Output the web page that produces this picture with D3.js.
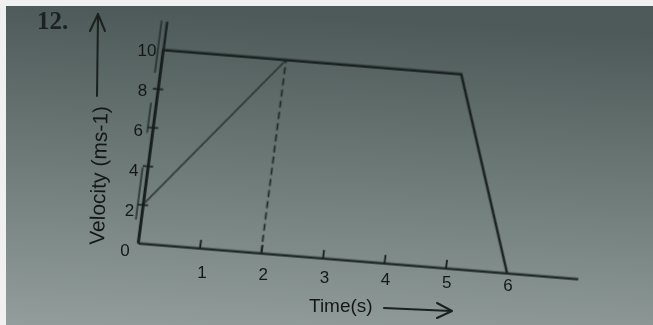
<!DOCTYPE html>
<html>
<head>
<meta charset="utf-8">
<script src="https://cdn.jsdelivr.net/npm/d3@7/dist/d3.min.js"></script>
<style>
  html, body { margin: 0; padding: 0; background: #f0f0f0; }
  svg { display: block; }
</style>
</head>
<body>
<svg id="chart" width="653" height="325"></svg>
<script>
// Velocity–time graph: constant speed, then braking to rest.
const motionTime     = [0, 0, 4.85, 6];
const motionVelocity = [0, 10, 10, 0];

// Straight line from the 2 m/s mark up to the top plateau.
const slopeTime      = [0, 2];
const slopeVelocity  = [2, 10];

// Dashed drop-line at t = 2 s.
const dropTime       = [2, 2];
const dropVelocity   = [0, 10];

const timeTicks      = [1, 2, 3, 4, 5, 6];
const velocityTicks  = [0, 2, 4, 6, 8, 10];
const timeTickMarks  = [1, 2, 3, 4, 5];
const velTickMarks   = [2, 4, 6, 8];

// Doubled strokes printed beside the vertical axis (velocity ranges).
const axisStrokeFrom = [8.8, 5.7, 1.2];
const axisStrokeTo   = [11.5, 7.25, 3.9];

const svg = d3.select("#chart");
const W = 653, H = 325;

// Paper background
const defs = svg.append("defs");
const grad = defs.append("linearGradient")
  .attr("id", "paper").attr("x1", "0.1").attr("y1", "0").attr("x2", "0").attr("y2", "1");
grad.append("stop").attr("offset", "0").attr("stop-color", "#4e5a59");
grad.append("stop").attr("offset", "0.45").attr("stop-color", "#6c7876");
grad.append("stop").attr("offset", "1").attr("stop-color", "#939e9c");
const soft = defs.append("filter").attr("id", "soft")
  .attr("x", "-5%").attr("y", "-5%").attr("width", "110%").attr("height", "110%");
soft.append("feGaussianBlur").attr("stdDeviation", 0.5);

svg.append("rect").attr("x", 6).attr("y", 6).attr("width", W - 6).attr("height", H - 6)
  .attr("fill", "url(#paper)");

// Scales in plot space (px per unit before the page's slant is applied)
const x = d3.scaleLinear().domain([0, 7.15]).range([0, 7.15 * 60]);
const y = d3.scaleLinear().domain([0, 11.5]).range([0, -11.5 * 19]);

// Slanted plane of the printed page
const M = { a: 61.5 / 60, b: 5.0 / 60, c: 2.5 / -19, d: -19.3 / -19, e: 138, f: 243 };

const ink = "#171d1c";
const plot = svg.append("g")
  .attr("transform", `matrix(${M.a},${M.b},${M.c},${M.d},${M.e},${M.f})`)
  .attr("filter", "url(#soft)");

// Time axis
const xAxis = plot.append("g")
  .call(d3.axisBottom(x).tickValues(timeTickMarks).tickSizeInner(-8).tickSizeOuter(0).tickFormat(""));
xAxis.select(".domain").attr("stroke", ink).attr("stroke-width", 2.2);
xAxis.selectAll(".tick line").attr("stroke", ink).attr("stroke-width", 1.8);

// Velocity axis
const yAxis = plot.append("g")
  .call(d3.axisLeft(y).tickValues(velTickMarks).tickSizeInner(5).tickSizeOuter(0).tickFormat(""));
yAxis.select(".domain").attr("stroke", ink).attr("stroke-width", 2.2);
yAxis.selectAll(".tick line").attr("x1", 5).attr("x2", -5).attr("stroke", ink).attr("stroke-width", 1.6);

// Doubled axis strokes
plot.append("g").selectAll("line")
  .data(axisStrokeFrom.map((v0, i) => [v0, axisStrokeTo[i]]))
  .join("line")
  .attr("x1", x(0) - 5).attr("x2", x(0) - 5)
  .attr("y1", d => y(d[0])).attr("y2", d => y(d[1]))
  .attr("stroke", "#232b2a").attr("stroke-width", 1.5);

const line = d3.line().x(d => x(d[0])).y(d => y(d[1]));

// Sloped line
plot.append("path")
  .attr("d", line(slopeTime.map((t, i) => [t, slopeVelocity[i]])))
  .attr("fill", "none").attr("stroke", "#283130").attr("stroke-width", 1.5);

// Dashed drop-line
plot.append("path")
  .attr("d", line(dropTime.map((t, i) => [t, dropVelocity[i]])))
  .attr("fill", "none").attr("stroke", "#1d2524").attr("stroke-width", 1.6)
  .attr("stroke-dasharray", "7,4");

// Motion graph
plot.append("path")
  .attr("d", line(motionTime.map((t, i) => [t, motionVelocity[i]])))
  .attr("fill", "none").attr("stroke", ink).attr("stroke-width", 2.3)
  .attr("stroke-linejoin", "miter");

// Upright labels placed along the slanted axes
const labels = svg.append("g").attr("filter", "url(#soft)")
  .attr("fill", "#141918").attr("font-family", "'Liberation Sans', Arial, sans-serif");

const tLabelX = d3.scaleLinear().domain([1, 6]).range([202, 508]);
const tLabelY = d3.scaleLinear().domain([1, 6]).range([272, 285]);
labels.selectAll("text.tl").data(timeTicks).join("text").attr("class", "tl")
  .attr("x", d => tLabelX(d)).attr("y", d => tLabelY(d))
  .attr("text-anchor", "middle").attr("dominant-baseline", "central")
  .attr("font-size", 17).text(d => d);

const vLabelX = d3.scaleLinear().domain([0, 10]).range([125, 147]);
const vLabelY = d3.scaleLinear().domain([0, 10]).range([250, 50]);
labels.selectAll("text.vl").data(velocityTicks).join("text").attr("class", "vl")
  .attr("x", d => vLabelX(d)).attr("y", d => vLabelY(d))
  .attr("text-anchor", "middle").attr("dominant-baseline", "central")
  .attr("font-size", 17).text(d => d);

// Question number
labels.append("text").attr("x", 37).attr("y", 29)
  .attr("font-family", "'Liberation Serif', 'DejaVu Serif', serif")
  .attr("font-weight", "bold").attr("font-size", 25).attr("fill", "#1c2221").text("12.");

// Axis titles with arrows
labels.append("text")
  .attr("transform", "translate(104,245) rotate(-88.5)")
  .attr("font-size", 21).text("Velocity (ms-1)");

labels.append("text").attr("x", 309).attr("y", 312)
  .attr("font-size", 19).text("Time(s)");

const arrows = svg.append("g").attr("filter", "url(#soft)")
  .attr("fill", "none").attr("stroke", "#1a201f").attr("stroke-width", 2)
  .attr("stroke-linecap", "round").attr("stroke-linejoin", "round");
arrows.append("path").attr("d", "M97,96 L98,14");
arrows.append("path").attr("d", "M90,31 L98,14 L105,31");
arrows.append("path").attr("d", "M384,308 L451,311");
arrows.append("path").attr("d", "M437,303 L452,311 L437,318");
</script>
</body>
</html>
